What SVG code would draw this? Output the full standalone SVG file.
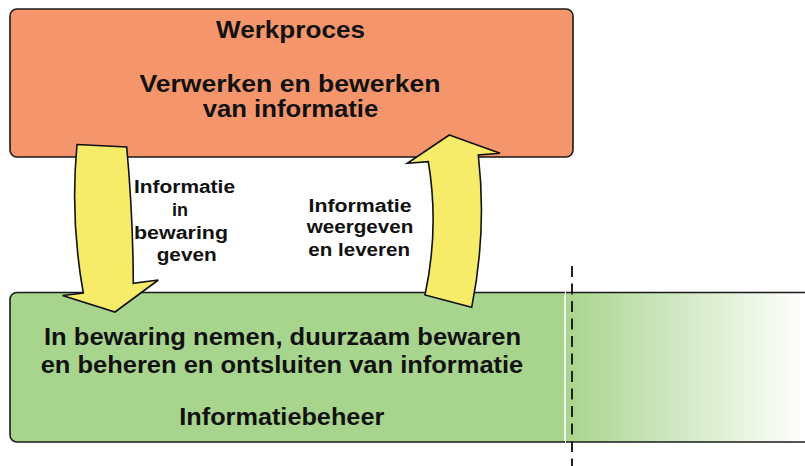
<svg xmlns="http://www.w3.org/2000/svg" width="805" height="466" viewBox="0 0 805 466">
<style>
.box{stroke:#1a1a1a;stroke-width:1.6}
.arrow{fill:#F6EC6A;stroke:#111;stroke-width:1.6;stroke-linejoin:miter}
text{font-family:"Liberation Sans",Arial,sans-serif;font-weight:bold;fill:#111;text-anchor:middle}
.big{font-size:23px}
.small{font-size:18px}
</style>
<defs>
<linearGradient id="fade" x1="0" y1="0" x2="1" y2="0">
<stop offset="0" stop-color="#A8D58D"/>
<stop offset="1" stop-color="#FFFFFF"/>
</linearGradient>
</defs>
<g id="werkproces">
<rect class="box" x="10" y="9" width="563" height="148" rx="7" fill="#F5956B"/>
<text class="big" x="290.5" y="38" textLength="149" lengthAdjust="spacingAndGlyphs">Werkproces</text>
<text class="big" x="290" y="91.5" textLength="301" lengthAdjust="spacingAndGlyphs">Verwerken en bewerken</text>
<text class="big" x="290.5" y="117" textLength="175.6" lengthAdjust="spacingAndGlyphs">van informatie</text>
</g>
<g id="informatiebeheer">
<rect x="566" y="292.5" width="239" height="149.5" fill="url(#fade)"/>
<path class="box" d="M565,292.5 H17 A7,7 0 0 0 10,299.5 V435 A7,7 0 0 0 17,442 H565" fill="#A8D58D"/>
<line x1="566" y1="292.5" x2="805" y2="292.5" stroke="#1a1a1a" stroke-width="1.6"/>
<line x1="566" y1="442" x2="805" y2="442" stroke="#1a1a1a" stroke-width="1.6"/>
<line x1="565" y1="293.5" x2="565" y2="441" stroke="#ffffff" stroke-width="1.5"/>
<text class="big" x="282.5" y="345" textLength="477" lengthAdjust="spacingAndGlyphs">In bewaring nemen, duurzaam bewaren</text>
<text class="big" x="282" y="373.3" textLength="482.6" lengthAdjust="spacingAndGlyphs">en beheren en ontsluiten van informatie</text>
<text class="big" x="281.8" y="425" textLength="205" lengthAdjust="spacingAndGlyphs">Informatiebeheer</text>
</g>
<g id="grens">
<line x1="572" y1="266" x2="572" y2="466" stroke="#222" stroke-width="2" stroke-dasharray="11,6.5"/>
</g>
<g id="connectors">
<g id="in-bewaring-geven">
<path class="arrow" d="M77,144.5 L126.7,147 Q133,215 133.3,283.3 L158.3,280 L115,312 L62.5,295.5 L83.3,293 Q70,219 77,144.5 Z"/>
<text class="small" x="184.5" y="193" textLength="101" lengthAdjust="spacingAndGlyphs">Informatie</text>
<text class="small" x="180" y="216" textLength="16" lengthAdjust="spacingAndGlyphs">in</text>
<text class="small" x="181" y="239" textLength="94" lengthAdjust="spacingAndGlyphs">bewaring</text>
<text class="small" x="186.7" y="261" textLength="60" lengthAdjust="spacingAndGlyphs">geven</text>
</g>
<g id="weergeven-en-leveren">
<path class="arrow" d="M449.3,135 L500,153.3 L478.3,155 Q487,230.8 471.7,307.3 L425,295 Q439.4,227.6 428.3,161.7 L407.3,163.3 Z"/>
<text class="small" x="360" y="211.7" textLength="103" lengthAdjust="spacingAndGlyphs">Informatie</text>
<text class="small" x="360" y="233.3" textLength="106.7" lengthAdjust="spacingAndGlyphs">weergeven</text>
<text class="small" x="359.2" y="256" textLength="101.7" lengthAdjust="spacingAndGlyphs">en leveren</text>
</g>
</g>
</svg>
